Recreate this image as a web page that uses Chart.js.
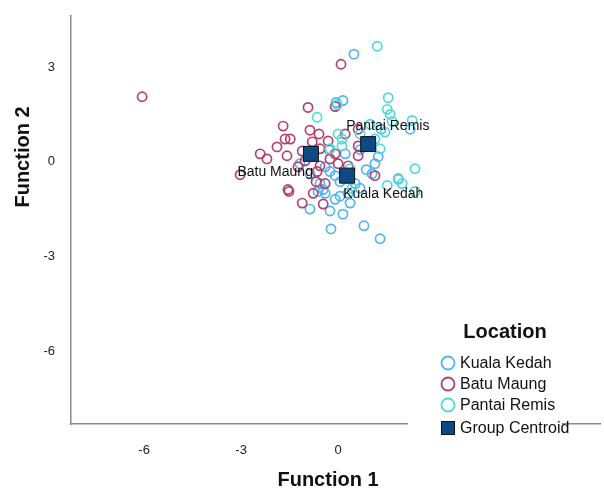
<!DOCTYPE html>
<html>
<head>
<meta charset="utf-8">
<script src="https://cdn.jsdelivr.net/npm/chart.js@4/dist/chart.umd.min.js"></script>
<style>
html,body{margin:0;padding:0;background:#fff;}
#wrap{width:604px;height:490px;position:relative;}
</style>
</head>
<body>
<div id="wrap"><canvas id="c" width="604" height="490"></canvas></div>
<script>
// ---- data (Function 1, Function 2) ----
const groupNames = ["Kuala Kedah", "Batu Maung", "Pantai Remis"];
const kualaKedahX = [0.49,0.15,-0.06,1.33,2.23,-0.28,0.22,0.68,1.24,0.87,1.14,-0.40,-0.25,-0.09,0.06,0.53,1.86,-0.56,-0.62,-0.40,-0.09,0.06,0.31,-0.25,0.15,-0.87,-0.22,0.80,1.30,0.37,0.68,1.05,-1.18,-0.87,-0.46];
const kualaKedahY = [3.41,1.94,1.88,1.03,1.03,0.38,0.25,0.38,0.16,-0.25,-0.06,-0.16,-0.31,-0.44,-0.63,-0.69,-0.53,-0.69,-0.94,-1.00,-1.19,-1.09,-1.00,-1.56,-1.66,-1.50,-2.13,-2.03,-2.44,-1.31,-0.84,-0.38,-0.06,-0.38,-0.88];
const batuMaungX = [-6.06,0.09,-0.93,-0.09,-1.70,-0.87,-0.59,-1.64,-1.48,-1.89,-1.11,-0.31,-2.41,-2.20,-1.58,-3.03,-1.55,-1.52,-0.77,-1.11,-0.46,-0.65,-0.56,-0.68,-1.24,0.31,1.14,0.62,0.62,-0.09,0.22,-0.25,-0.40,-0.56,-0.80,0.62,0.00,-1.02];
const batuMaungY = [2.06,3.09,1.72,1.75,1.13,1.00,0.88,0.72,0.72,0.47,0.34,0.66,0.25,0.09,0.19,-0.41,-0.88,-0.94,-1.00,-1.31,-1.34,-0.31,-0.13,-0.63,-0.16,-0.13,-0.44,0.50,0.19,0.25,0.88,0.09,-0.69,0.41,0.63,1.03,-0.06,0.03];
const pantaiRemisX = [1.21,1.55,1.52,1.61,1.67,2.29,-0.65,-0.03,0.12,-0.25,0.00,0.12,2.38,1.52,1.86,1.98,2.38,0.68,1.14,0.37,0.22,1.30,0.99,1.45,0.43];
const pantaiRemisY = [3.66,2.03,1.66,1.50,1.28,1.31,1.41,1.81,0.72,0.41,0.88,0.50,-0.22,-0.75,-0.56,-0.69,-0.94,0.88,0.72,-0.22,-0.53,0.41,1.19,0.94,-0.84];
const centroidX = [0.28, -0.84, 0.93];
const centroidY = [-0.44, 0.25, 0.56];
const xTicks = [-6, -3, 0];
const yTicks = [3, 0, -3, -6];

const colBlue = "#4fb4f7", colMaroon = "#b5406e", colCyan = "#4fd9d9", colCent = "#0d4a85";
const pts = (xs, ys) => xs.map((x, i) => ({x: x, y: ys[i]}));

const labelOffsets = [ {dx:-4, dy:19, align:"left"}, {dx:2, dy:18, align:"right"}, {dx:-22, dy:-18, align:"left"} ];

const overlay = {
  id: "overlay",
  afterDatasetsDraw(chart) {
    const ctx = chart.ctx, xs = chart.scales.x, ys = chart.scales.y;
    ctx.save();
    ctx.font = "14px 'Liberation Sans', Arial, sans-serif";
    ctx.fillStyle = "#111";
    ctx.textBaseline = "middle";
    groupNames.forEach((n, i) => {
      const px = xs.getPixelForValue(centroidX[i]), py = ys.getPixelForValue(centroidY[i]);
      const o = labelOffsets[i];
      ctx.textAlign = o.align;
      ctx.fillText(n, px + o.dx, py + o.dy);
    });
    ctx.restore();
  },
  afterDraw(chart) {
    const ctx = chart.ctx;
    ctx.save();
    // axis titles
    ctx.fillStyle = "#111";
    ctx.font = "bold 20px 'Liberation Sans', Arial, sans-serif";
    ctx.textAlign = "center"; ctx.textBaseline = "middle";
    ctx.fillText("Function 1", 328, 480);
    ctx.save();
    ctx.translate(23, 157); ctx.rotate(-Math.PI/2);
    ctx.fillText("Function 2", 0, 0);
    ctx.restore();
    // legend box
    ctx.fillStyle = "#fff";
    ctx.fillRect(408, 305, 154, 140);
    ctx.fillStyle = "#111";
    ctx.font = "bold 20px 'Liberation Sans', Arial, sans-serif";
    ctx.fillText("Location", 505, 332);
    const items = [[groupNames[0], colBlue], [groupNames[1], colMaroon], [groupNames[2], colCyan]];
    ctx.font = "16px 'Liberation Sans', Arial, sans-serif";
    ctx.textAlign = "left";
    items.forEach((it, i) => {
      const y = 363 + i * 21;
      ctx.beginPath(); ctx.arc(448, y, 6.5, 0, Math.PI*2);
      ctx.strokeStyle = it[1]; ctx.lineWidth = 1.8; ctx.stroke();
      ctx.fillStyle = "#111"; ctx.fillText(it[0], 460, y + 1);
    });
    ctx.fillStyle = colCent; ctx.fillRect(441, 421, 14, 14);
    ctx.strokeStyle = "#111"; ctx.lineWidth = 1; ctx.strokeRect(441.5, 421.5, 13, 13);
    ctx.fillStyle = "#111"; ctx.fillText("Group Centroid", 460, 429);
    ctx.restore();
  }
};

new Chart(document.getElementById("c"), {
  type: "scatter",
  data: {
    datasets: [
      {label: "Group Centroid", data: pts(centroidX, centroidY), pointStyle: "rect", pointRadius: 10.6, backgroundColor: colCent, borderColor: "#111", borderWidth: 1, order: 0},
      {label: groupNames[0], data: pts(kualaKedahX, kualaKedahY), pointRadius: 4.6, borderWidth: 1.7, borderColor: colBlue, backgroundColor: "rgba(0,0,0,0)", order: 3},
      {label: groupNames[1], data: pts(batuMaungX, batuMaungY), pointRadius: 4.6, borderWidth: 1.7, borderColor: colMaroon, backgroundColor: "rgba(0,0,0,0)", order: 2},
      {label: groupNames[2], data: pts(pantaiRemisX, pantaiRemisY), pointRadius: 4.6, borderWidth: 1.7, borderColor: colCyan, backgroundColor: "rgba(0,0,0,0)", order: 1}
    ]
  },
  options: {
    responsive: false, animation: false,
    layout: {autoPadding: false, padding: {left: 0, top: 10, right: 4, bottom: 0}},
    plugins: {legend: {display: false}, tooltip: {enabled: false}},
    scales: {
      x: {
        type: "linear", min: -8.26, max: 8.1,
        grid: {display: false},
        border: {display: true, color: "#8a8a8a", width: 1.5},
        ticks: {color: "#222", font: {size: 13, family: "'Liberation Sans', Arial, sans-serif"}, padding: 11},
        afterBuildTicks: s => { s.ticks = xTicks.map(v => ({value: v})); },
        afterFit: s => { s.height = 66; }
      },
      y: {
        type: "linear", min: -8.31, max: 4.625,
        grid: {display: false},
        border: {display: true, color: "#8a8a8a", width: 1.5},
        ticks: {color: "#222", font: {size: 13, family: "'Liberation Sans', Arial, sans-serif"}, padding: 8},
        afterBuildTicks: s => { s.ticks = yTicks.map(v => ({value: v})); },
        afterFit: s => { s.width = 71; }
      }
    }
  },
  plugins: [overlay]
});
</script>
</body>
</html>
